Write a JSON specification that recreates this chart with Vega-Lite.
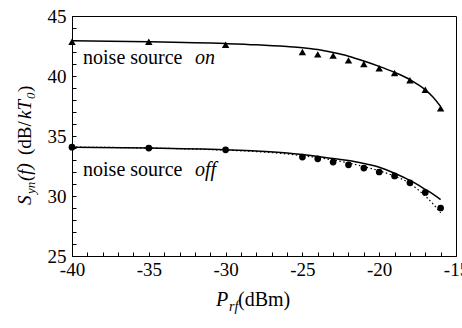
{
  "$schema": "https://vega.github.io/schema/vega-lite/v6.json",
  "width": 384,
  "height": 240,
  "autosize": {"type": "none"},
  "padding": {"left": 72, "top": 16, "right": 6, "bottom": 72},
  "background": "white",
  "config": {
    "font": "serif",
    "view": {"stroke": "black", "strokeWidth": 1},
    "text": {"font": "serif"},
    "axis": {
      "grid": false,
      "domainColor": "black",
      "tickColor": "black",
      "labelColor": "black",
      "labelFont": "serif",
      "labelFontSize": 19,
      "tickSize": -4,
      "title": null,
      "labelOverlap": false,
      "labelFlush": false
    }
  },
  "datasets": {
    "pts_on": [
      {"p": -40, "s": 42.85}, {"p": -35, "s": 42.85}, {"p": -30, "s": 42.6},
      {"p": -25, "s": 42.0}, {"p": -24, "s": 41.8}, {"p": -23, "s": 41.7},
      {"p": -22, "s": 41.3}, {"p": -21, "s": 41.0}, {"p": -20, "s": 40.65},
      {"p": -19, "s": 40.25}, {"p": -18, "s": 39.65}, {"p": -17, "s": 38.85},
      {"p": -16, "s": 37.3}
    ],
    "fit_on": [
      {"p": -40, "s": 42.93}, {"p": -35, "s": 42.85}, {"p": -30, "s": 42.7},
      {"p": -28, "s": 42.6}, {"p": -26, "s": 42.45}, {"p": -25, "s": 42.35},
      {"p": -24, "s": 42.2}, {"p": -23, "s": 41.95}, {"p": -22, "s": 41.65},
      {"p": -21, "s": 41.25}, {"p": -20, "s": 40.8}, {"p": -19, "s": 40.3},
      {"p": -18, "s": 39.7}, {"p": -17.5, "s": 39.3}, {"p": -17, "s": 38.85},
      {"p": -16.5, "s": 38.25}, {"p": -16, "s": 37.45}
    ],
    "pts_off": [
      {"p": -40, "s": 34.07}, {"p": -35, "s": 33.99}, {"p": -30, "s": 33.85},
      {"p": -25, "s": 33.24}, {"p": -24, "s": 33.1}, {"p": -23, "s": 32.83},
      {"p": -22, "s": 32.6}, {"p": -21, "s": 32.33}, {"p": -20, "s": 32.0},
      {"p": -19, "s": 31.67}, {"p": -18, "s": 31.1}, {"p": -17, "s": 30.3},
      {"p": -16, "s": 29.0}
    ],
    "fit_off": [
      {"p": -40, "s": 34.07}, {"p": -35, "s": 34.0}, {"p": -30, "s": 33.85},
      {"p": -28, "s": 33.75}, {"p": -26, "s": 33.58}, {"p": -25, "s": 33.45},
      {"p": -24, "s": 33.3}, {"p": -23, "s": 33.12}, {"p": -22, "s": 32.95},
      {"p": -21, "s": 32.7}, {"p": -20, "s": 32.4}, {"p": -19, "s": 31.9},
      {"p": -18, "s": 31.3}, {"p": -17.5, "s": 30.95}, {"p": -17, "s": 30.55},
      {"p": -16.5, "s": 30.15}, {"p": -16, "s": 29.7}
    ],
    "fit_off_dot": [
      {"p": -40, "s": 34.07}, {"p": -35, "s": 34.0}, {"p": -30, "s": 33.82},
      {"p": -28, "s": 33.7}, {"p": -26, "s": 33.5}, {"p": -25, "s": 33.35},
      {"p": -24, "s": 33.2}, {"p": -23, "s": 33.0}, {"p": -22, "s": 32.75},
      {"p": -21, "s": 32.45}, {"p": -20, "s": 32.1}, {"p": -19, "s": 31.65},
      {"p": -18, "s": 31.05}, {"p": -17.5, "s": 30.55}, {"p": -17, "s": 30.0},
      {"p": -16.5, "s": 29.35}, {"p": -16, "s": 28.6}
    ],
    "txt_normal": [
      {"p": -39.28, "s": 41.0, "t": "noise source"},
      {"p": -39.28, "s": 31.67, "t": "noise source"},
      {"p": -29.19, "s": 20.83, "t": "(dBm)"}
    ],
    "txt_italic": [
      {"p": -32.0, "s": 41.0, "t": "on"},
      {"p": -32.0, "s": 31.67, "t": "off"},
      {"p": -30.62, "s": 20.83, "t": "P"}
    ],
    "txt_sub": [
      {"p": -29.78, "s": 20.42, "t": "rf"}
    ],
    "ytitle_italic": [
      {"p": -42.67, "s": 29.25, "t": "S"},
      {"p": -42.67, "s": 31.25, "t": "(f)"},
      {"p": -42.67, "s": 36.42, "t": "kT"}
    ],
    "ytitle_normal": [
      {"p": -42.67, "s": 33.42, "t": "(dB/"},
      {"p": -42.67, "s": 38.67, "t": ")"}
    ],
    "ytitle_sub": [
      {"p": -42.41, "s": 30.17, "t": "yn"},
      {"p": -42.41, "s": 38.08, "t": "0"}
    ]
  },
  "encoding": {
    "x": {
      "field": "p", "type": "quantitative",
      "scale": {"domain": [-40, -15], "nice": false, "zero": false},
      "axis": {
        "values": [-40,-39,-38,-37,-36,-35,-34,-33,-32,-31,-30,-29,-28,-27,-26,-25,-24,-23,-22,-21,-20,-19,-18,-17,-16,-15],
        "labelExpr": "datum.value % 5 === 0 ? '' + datum.value : ''",
        "labelPadding": 8
      }
    },
    "y": {
      "field": "s", "type": "quantitative",
      "scale": {"domain": [25, 45], "nice": false, "zero": false},
      "axis": {
        "values": [25,26,27,28,29,30,31,32,33,34,35,36,37,38,39,40,41,42,43,44,45],
        "labelExpr": "datum.value % 5 === 0 ? '' + datum.value : ''",
        "labelPadding": 10
      }
    }
  },
  "layer": [
    {"data": {"name": "fit_on"}, "mark": {"type": "line", "color": "black", "strokeWidth": 1.5, "interpolate": "monotone"}},
    {"data": {"name": "fit_off_dot"}, "mark": {"type": "line", "color": "black", "strokeWidth": 1.2, "strokeDash": [1.5, 2.5], "interpolate": "monotone"}},
    {"data": {"name": "fit_off"}, "mark": {"type": "line", "color": "black", "strokeWidth": 1.5, "interpolate": "monotone"}},
    {"data": {"name": "pts_on"}, "mark": {"type": "point", "shape": "triangle-up", "filled": true, "color": "black", "size": 55, "opacity": 1}},
    {"data": {"name": "pts_off"}, "mark": {"type": "point", "shape": "circle", "filled": true, "color": "black", "size": 45, "opacity": 1}},
    {"data": {"name": "txt_normal"}, "mark": {"type": "text", "align": "left", "baseline": "alphabetic", "fontSize": 20, "color": "black"}, "encoding": {"text": {"field": "t"}}},
    {"data": {"name": "txt_italic"}, "mark": {"type": "text", "align": "left", "baseline": "alphabetic", "fontSize": 20, "fontStyle": "italic", "color": "black"}, "encoding": {"text": {"field": "t"}}},
    {"data": {"name": "txt_sub"}, "mark": {"type": "text", "align": "left", "baseline": "alphabetic", "fontSize": 14, "fontStyle": "italic", "color": "black"}, "encoding": {"text": {"field": "t"}}},
    {"data": {"name": "ytitle_italic"}, "mark": {"type": "text", "align": "left", "baseline": "alphabetic", "angle": 270, "fontSize": 19, "fontStyle": "italic", "color": "black"}, "encoding": {"text": {"field": "t"}}},
    {"data": {"name": "ytitle_normal"}, "mark": {"type": "text", "align": "left", "baseline": "alphabetic", "angle": 270, "fontSize": 19, "color": "black"}, "encoding": {"text": {"field": "t"}}},
    {"data": {"name": "ytitle_sub"}, "mark": {"type": "text", "align": "left", "baseline": "alphabetic", "angle": 270, "fontSize": 13, "fontStyle": "italic", "color": "black"}, "encoding": {"text": {"field": "t"}}}
  ]
}
